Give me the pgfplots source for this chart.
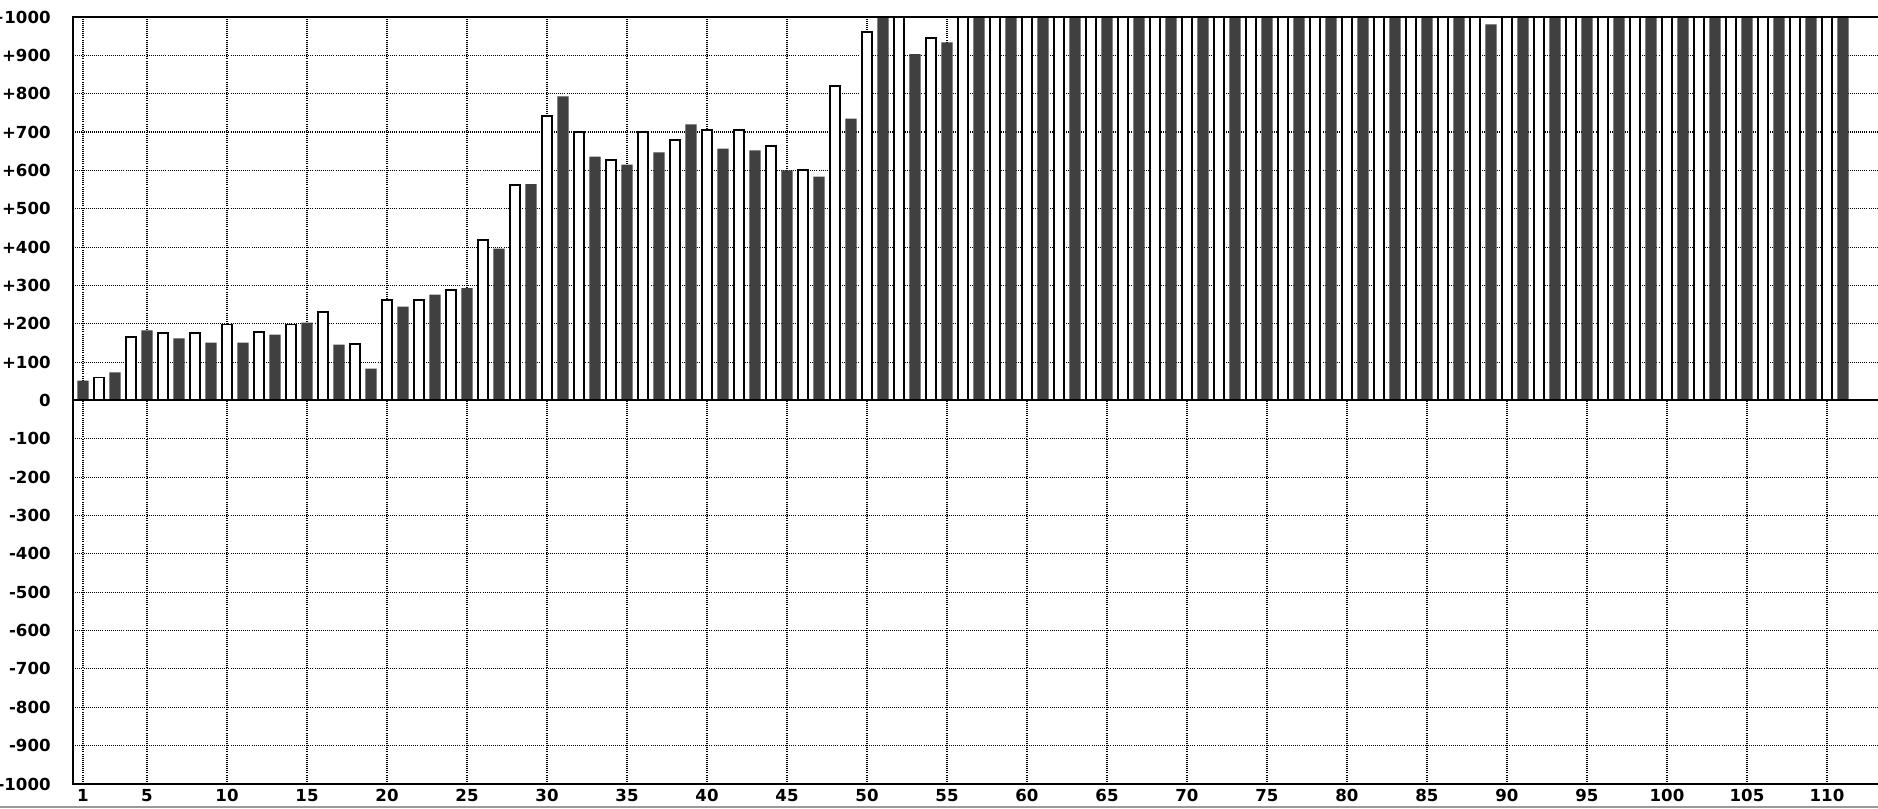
\documentclass[border=0pt]{standalone}
\usepackage{pgfplots}
\pgfplotsset{compat=1.18}
\usepackage{fontspec}
\setmainfont{DejaVu Sans}
\definecolor{darkbar}{RGB}{64,64,64}
\begin{document}
\begin{tikzpicture}
\path[use as bounding box, clip] (-36.5pt,-12pt) rectangle (902.5pt,392pt);
\begin{axis}[
  name=ax, at={(0,0)}, anchor=south west,
  scale only axis, width=902.5pt, height=383.5pt,
  xmin=0.375, xmax=113.19, ymin=-1000, ymax=1000,
  xtick={1,5,10,15,20,25,30,35,40,45,50,55,60,65,70,75,80,85,90,95,100,105,110},
  xticklabels={1,5,10,15,20,25,30,35,40,45,50,55,60,65,70,75,80,85,90,95,100,105,110},
  ytick={-1000,-900,-800,-700,-600,-500,-400,-300,-200,-100,0,100,200,300,400,500,600,700,800,900,1000},
  yticklabels={-1000,-900,-800,-700,-600,-500,-400,-300,-200,-100,0,+100,+200,+300,+400,+500,+600,+700,+800,+900,+1000},
  grid=major,
  grid style={black, line width=0.55pt, dash pattern=on 0.5pt off 0.55pt},
  axis line style={draw=none},
  major tick length=0pt,
  tick label style={font=\fontsize{8.3}{10}\selectfont\bfseries},
  yticklabel style={anchor=east, inner sep=0pt, xshift=-11pt},
  xticklabel style={anchor=north, inner sep=0pt, yshift=-2.5pt},
  ybar,
]
% odd categories: dark bars
\addplot[ybar, bar shift=0pt, fill=darkbar, draw=none, bar width=5.7pt] coordinates {
(1,52) (3,73) (5,183) (7,162) (9,151) (11,151) (13,172) (15,203) (17,146) (19,83)
(21,245) (23,276) (25,293) (27,396) (29,564) (31,793) (33,636) (35,615) (37,647) (39,720)
(41,657) (43,652) (45,600) (47,584) (49,735) (51,1000) (53,903) (55,934) (57,1000) (59,1000)
(61,1000) (63,1000) (65,1000) (67,1000) (69,1000) (71,1000) (73,1000) (75,1000) (77,1000) (79,1000)
(81,1000) (83,1000) (85,1000) (87,1000) (89,981) (91,1000) (93,1000) (95,1000) (97,1000) (99,1000)
(101,1000) (103,1000) (105,1000) (107,1000) (109,1000) (111,1000)
};
% even categories: white bars
\addplot[ybar, bar shift=0pt, fill=white, draw=black, line width=0.9pt, bar width=5.2pt] coordinates {
(2,60) (4,165) (6,175) (8,175) (10,198) (12,179) (14,198) (16,231) (18,148) (20,263)
(22,262) (24,288) (26,419) (28,561) (30,742) (32,700) (34,627) (36,700) (38,680) (40,705)
(42,705) (44,664) (46,601) (48,820) (50,961) (52,1000) (54,945) (56,1000) (58,1000) (60,1000)
(62,1000) (64,1000) (66,1000) (68,1000) (70,1000) (72,1000) (74,1000) (76,1000) (78,1000) (80,1000)
(82,1000) (84,1000) (86,1000) (88,1000) (90,1000) (92,1000) (94,1000) (96,1000) (98,1000) (100,1000)
(102,1000) (104,1000) (106,1000) (108,1000) (110,1000)
};
\end{axis}
\draw[line width=1pt] (ax.north east) -- (ax.north west) -- (ax.south west) -- (ax.south east);
\draw[line width=1pt] (ax.west) -- (ax.east);
\fill[black!40] (-36.5pt,-12pt) rectangle (902.5pt,-11pt);
\end{tikzpicture}
\end{document}
